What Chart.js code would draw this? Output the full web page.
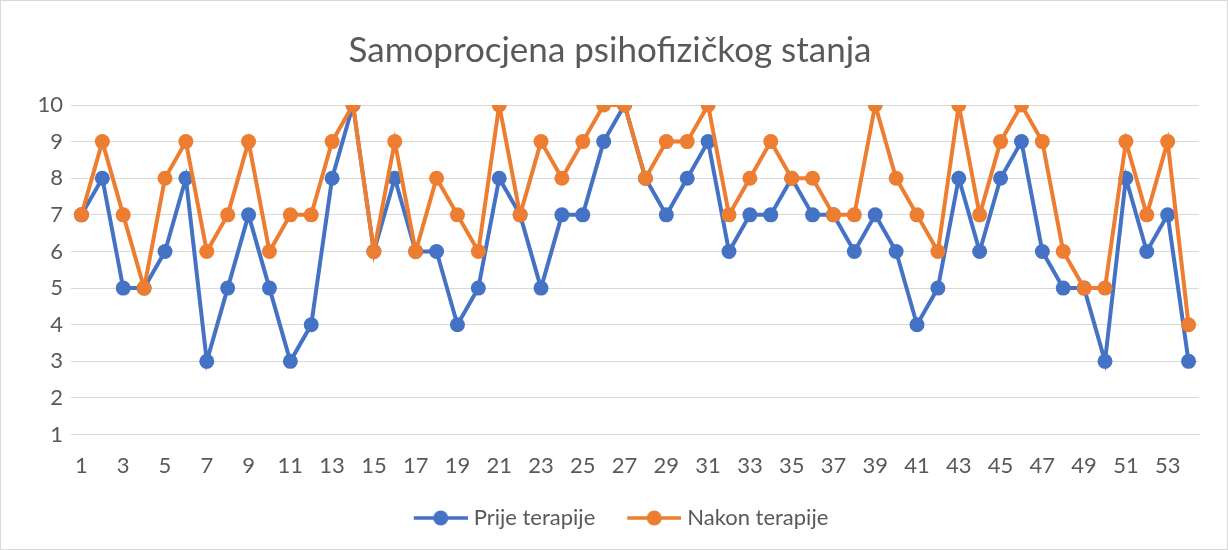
<!DOCTYPE html>
<html>
<head>
<meta charset="utf-8">
<script src="https://cdn.jsdelivr.net/npm/chart.js@4"></script>
<style>
  body { margin: 0; background: #fff; }
  #wrap { width: 1228px; height: 550px; position: relative; box-sizing: border-box; border: 1px solid #d9d9d9; }
</style>
</head>
<body>
<div id="wrap"><canvas id="myChart"></canvas></div>
<script>
// data
const categories = [];
for (let i = 1; i <= 54; i++) categories.push(String(i));

const prijeTerapije = [7, 8, 5, 5, 6, 8, 3, 5, 7, 5, 3, 4, 8, 10, 6, 8, 6, 6, 4, 5,
  8, 7, 5, 7, 7, 9, 10, 8, 7, 8, 9, 6, 7, 7, 8, 7, 7, 6, 7, 6,
  4, 5, 8, 6, 8, 9, 6, 5, 5, 3, 8, 6, 7, 3];

const nakonTerapije = [7, 9, 7, 5, 8, 9, 6, 7, 9, 6, 7, 7, 9, 10, 6, 9, 6, 8, 7, 6,
  10, 7, 9, 8, 9, 10, 10, 8, 9, 9, 10, 7, 8, 9, 8, 8, 7, 7, 10, 8,
  7, 6, 10, 7, 9, 10, 9, 6, 5, 5, 9, 7, 9, 4];

const yTicks = [1, 2, 3, 4, 5, 6, 7, 8, 9, 10];

const BLUE = '#4472C4';
const ORANGE = '#ED7D31';
const TEXT = '#595959';
const FONT = 'Lato, "Open Sans", sans-serif';

// legend marker: short line with a dot, pushed to the right of the box
// (the blank left part gives the gap between the two legend items)
const MARK_BOX = 71;
function legendMarker(color) {
  const c = document.createElement('canvas');
  c.width = MARK_BOX + 10; c.height = 16;
  const g = c.getContext('2d');
  const x0 = c.width - 54;
  g.strokeStyle = color;
  g.lineWidth = 3.5;
  g.beginPath();
  g.moveTo(x0, 8); g.lineTo(c.width, 8);
  g.stroke();
  g.fillStyle = color;
  g.beginPath();
  g.arc(x0 + 27, 8, 7.5, 0, Math.PI * 2);
  g.fill();
  return c;
}

const markers = [legendMarker(BLUE), legendMarker(ORANGE)];

var ctx = document.getElementById('myChart').getContext('2d');

// eslint-disable-next-line no-unused-vars
var chart = new Chart(ctx, {
  type: 'line',
  data: {
    labels: categories,
    datasets: [{
      label: 'Prije terapije',
      data: prijeTerapije,
      borderColor: BLUE,
      backgroundColor: BLUE,
      borderWidth: 4,
      pointRadius: 7.5,
      pointHoverRadius: 7.5,
      pointBorderWidth: 0,
      order: 1,
    },
    {
      label: 'Nakon terapije',
      data: nakonTerapije,
      borderColor: ORANGE,
      backgroundColor: ORANGE,
      borderWidth: 4,
      pointRadius: 7.5,
      pointHoverRadius: 7.5,
      pointBorderWidth: 0,
      order: 0, // orange on top
    }]
  },
  options: {
    responsive: true,
    maintainAspectRatio: false,
    animation: false,
    layout: { padding: { left: 0, right: 8, top: 0, bottom: 10 } },
    plugins: {
      title: {
        display: true,
        text: 'Samoprocjena psihofizičkog stanja',
        color: TEXT,
        font: { family: FONT, size: 35, weight: 'normal' },
        padding: { top: 29, bottom: 33 },
      },
      legend: {
        position: 'bottom',
        labels: {
          color: TEXT,
          font: { family: FONT, size: 22 },
          usePointStyle: true,
          pointStyleWidth: MARK_BOX,
          padding: 10,
          generateLabels: function(chart) {
            return chart.data.datasets.map(function(ds, i) {
              return {
                text: ds.label,
                pointStyle: markers[i],
                fontColor: TEXT,
                lineWidth: 0,
                strokeStyle: 'transparent',
                fillStyle: ds.borderColor,
                hidden: false,
                datasetIndex: i,
              };
            });
          },
        },
      },
      tooltip: { enabled: false },
    },
    scales: {
      x: {
        offset: true,
        grid: { display: false, drawTicks: false },
        border: { color: '#d9d9d9' },
        ticks: {
          color: TEXT,
          font: { family: FONT, size: 22 },
          autoSkip: false,
          maxRotation: 0,
          padding: 18,
          callback: function(value, index) {
            return index % 2 === 0 ? categories[index] : '';
          },
        },
      },
      y: {
        min: yTicks[0],
        max: yTicks[yTicks.length - 1],
        afterFit: function(scale) { scale.width = 70; },
        afterBuildTicks: function(scale) {
          scale.ticks = yTicks.map(v => ({ value: v }));
        },
        grid: { color: '#d9d9d9', lineWidth: 1, drawTicks: false },
        border: { display: false },
        ticks: {
          color: TEXT,
          font: { family: FONT, size: 22 },
          padding: 8,
        },
      },
      // empty spacer on the right, keeps the plot narrow but lets the legend sit centred like the original
      spacer: {
        position: 'right',
        afterFit: function(scale) { scale.width = 20; },
        grid: { display: false, drawTicks: false },
        border: { display: false },
        ticks: { display: false },
      },
    },
  },
});
</script>
</body>
</html>
